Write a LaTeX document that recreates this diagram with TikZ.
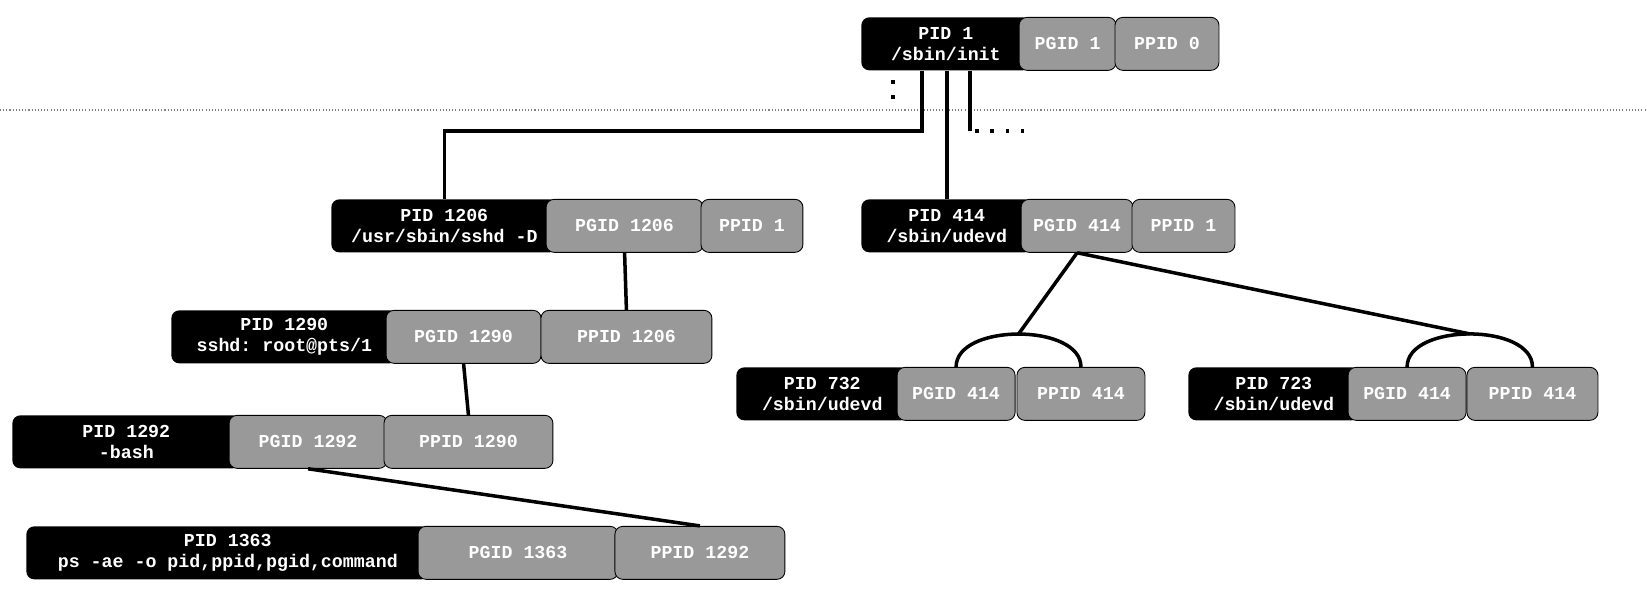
\documentclass[tikz,border=0pt]{standalone}
\usepackage{fontspec}
\setmonofont{Liberation Mono}
\usetikzlibrary{positioning}
\usepackage{xcolor}
\definecolor{boxgray}{RGB}{153,153,153}
\tikzset{
    pidbox/.style = {
        fill = black,
        text = white,
        rounded corners = 4.5pt,
        align = center,
        inner sep = 0pt,
        minimum height = 1.06cm,
        font = \ttfamily\bfseries\fontsize{10.4}{12}\selectfont,
    },
    idbox/.style = {
        draw = black,
        line width = 0.5pt,
        fill = boxgray,
        text = white,
        rounded corners = 4.5pt,
        inner sep = 0pt,
        minimum height = 1.06cm,
        font = \ttfamily\bfseries\fontsize{10.4}{12}\selectfont,
    },
    conn/.style = {draw = black, line width = 2pt},
    moredots/.style = {draw = black, line width = 2pt, dash pattern = on 2pt off 6.7pt},
    sepline/.style = {draw = gray, line width = 0.6pt, dash pattern = on 0.6pt off 1.2pt},
}

\begin{document}
\begin{tikzpicture}[x=0.02cm, y=-0.02cm]
    \useasboundingbox (0,0) rectangle (1647,614);

    \node[pidbox, minimum width=3.38cm, anchor=north west] (init) at (861,17) {PID 1\\/sbin/init};
    \node[idbox, minimum width=1.94cm, right=-0.24cm of init] (initG) {PGID 1};
    \node[idbox, minimum width=2.08cm, right=-0.04cm of initG] (initP) {PPID 0};

    \node[pidbox, minimum width=4.52cm, anchor=north west] (sshd) at (331,199) {PID 1206\\/usr/sbin/sshd -D};
    \node[idbox, minimum width=3.14cm, right=-0.24cm of sshd] (sshdG) {PGID 1206};
    \node[idbox, minimum width=2.04cm, right=-0.06cm of sshdG] (sshdP) {PPID 1};

    \node[pidbox, minimum width=3.42cm, anchor=north west] (udevd) at (861,199) {PID 414\\/sbin/udevd};
    \node[idbox, minimum width=2.24cm, right=-0.24cm of udevd] (udevdG) {PGID 414};
    \node[idbox, minimum width=2.06cm, right=-0.04cm of udevdG] (udevdP) {PPID 1};

    \node[pidbox, minimum width=4.52cm, anchor=north west] (pts) at (171,310) {PID 1290\\sshd: root@pts/1};
    \node[idbox, minimum width=3.10cm, right=-0.24cm of pts] (ptsG) {PGID 1290};
    \node[idbox, minimum width=3.42cm, right=-0.02cm of ptsG] (ptsP) {PPID 1206};

    \node[pidbox, minimum width=4.56cm, anchor=north west] (bash) at (12,415) {PID 1292\\-bash};
    \node[idbox, minimum width=3.16cm, right=-0.24cm of bash] (bashG) {PGID 1292};
    \node[idbox, minimum width=3.38cm, right=-0.08cm of bashG] (bashP) {PPID 1290};

    \node[pidbox, minimum width=8.06cm, anchor=north west] (ps) at (26,526) {PID 1363\\ps -ae -o pid,ppid,pgid,command};
    \node[idbox, minimum width=4.00cm, right=-0.24cm of ps] (psG) {PGID 1363};
    \node[idbox, minimum width=3.40cm, right=-0.08cm of psG] (psP) {PPID 1292};

    \node[pidbox, minimum width=3.44cm, anchor=north west] (udevdA) at (736,367) {PID 732\\/sbin/udevd};
    \node[idbox, minimum width=2.36cm, right=-0.24cm of udevdA] (udevdAG) {PGID 414};
    \node[idbox, minimum width=2.56cm, right=0.02cm of udevdAG] (udevdAP) {PPID 414};

    \node[pidbox, minimum width=3.42cm, anchor=north west] (udevdB) at (1188,367) {PID 723\\/sbin/udevd};
    \node[idbox, minimum width=2.36cm, right=-0.24cm of udevdB] (udevdBG) {PGID 414};
    \node[idbox, minimum width=2.62cm, right=0cm of udevdBG] (udevdBP) {PPID 414};

    \coordinate (sepL) at (0,110);
    \coordinate (sepR) at (1647,110);
    \coordinate (forkL) at (922,131);
    \coordinate (forkR) at (970,131);
    \coordinate (moreL) at (975,131);
    \coordinate (moreR) at (1026,131);
    \coordinate (moreT) at (893,80);
    \coordinate (moreB) at (893,101);

    \draw[sepline] (sepL) -- (sepR);

    \draw[conn] (init.south -| forkL) -- (forkL) -| (sshd.north);
    \draw[conn] (init.south -| udevd.north) -- (udevd.north);
    \draw[conn] (init.south -| forkR) -- (forkR);
    \draw[moredots] (moreL) -- (moreR);
    \draw[moredots] (moreT) -- (moreB);

    \draw[conn] (sshdG.south) -- (ptsP.north);
    \draw[conn] (ptsG.south) -- (bashP.north);
    \draw[conn] (bashG.south) -- (psP.north);

    \draw[conn] (udevdAG.north) to[out=90,in=90,looseness=0.9] coordinate[midway] (capA) (udevdAP.north);
    \draw[conn] (udevdBG.north) to[out=90,in=90,looseness=0.9] coordinate[midway] (capB) (udevdBP.north);
    \draw[conn] (udevdG.south) -- (capA);
    \draw[conn] (udevdG.south) -- (capB);

\end{tikzpicture}
\end{document}
